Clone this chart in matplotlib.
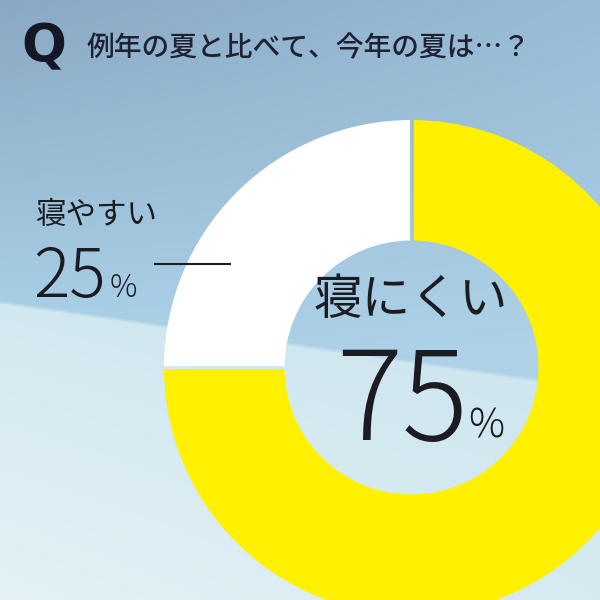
import numpy as np
import matplotlib
matplotlib.use('Agg')
import matplotlib.pyplot as plt
from matplotlib.patches import Rectangle

plt.rcParams['font.family'] = ['Noto Sans CJK JP', 'DejaVu Sans']

# data
QUESTION = '例年の夏と比べて、今年の夏は…？'
labels = ['寝にくい', '寝やすい']
shares = [75, 25]
colors = ['#fff100', '#ffffff']

W = H = 600
CX, CY = 411.5, 367.5      # donut centre in image pixels (y down)
R_OUT, R_IN = 247.5, 127.0
GAP = 3.5
INK = '#1b1c22'


def py(y):
    """image pixel row -> data y (y up)"""
    return H - y


def hex2rgb(h):
    return np.array([int(h[i:i + 2], 16) for i in (1, 3, 5)]) / 255.0


#
# background: bluish sky on top, pale band below a slanted edge
#
yy, xx = np.mgrid[0:H, 0:W].astype(float)
edge = 302.0 + 0.145 * xx
fx = (xx / W)[..., None]
top = hex2rgb('#8aa8c3') * (1 - fx) + hex2rgb('#98bcd6') * fx
near = hex2rgb('#a7cee5') * (1 - fx) + hex2rgb('#b1d4e9') * fx
t = np.clip(yy / edge, 0, 1)[..., None]
upper = top * (1 - t) + near * t
s = np.clip((yy - edge) / (H - edge), 0, 1)[..., None]
low_a = hex2rgb('#d2e8f0') * (1 - fx) + hex2rgb('#cfe6ef') * fx
low_b = hex2rgb('#e4f2f6') * (1 - fx) + hex2rgb('#d6eaf1') * fx
lower = low_a * (1 - s) + low_b * s
m = np.clip((yy - edge) / 4.0 + 0.5, 0, 1)[..., None]
bg = upper * (1 - m) + lower * m

fig = plt.figure(figsize=(6, 6), dpi=100)
ax = fig.add_axes([0, 0, 1, 1])
ax.imshow(bg, extent=(0, W, 0, H), origin='upper', zorder=0)

#
# donut
#
ax.pie(shares, colors=colors, startangle=90, counterclock=False,
       center=(CX, py(CY)), radius=R_OUT, frame=True,
       wedgeprops=dict(width=R_OUT - R_IN, linewidth=0))

# thin gaps between the two slices show the background through
for x0, y0, w, h in [(CX - GAP / 2, py(CY), GAP, R_OUT + 5),
                     (CX - R_OUT - 5, py(CY) - GAP / 2, R_OUT + 5, GAP)]:
    rect = Rectangle((x0, y0), w, h, transform=ax.transData)
    im = ax.imshow(bg, extent=(0, W, 0, H), origin='upper', zorder=5)
    im.set_clip_path(rect)

ax.set_xlim(0, W)
ax.set_ylim(0, H)
ax.set_aspect('equal')
ax.axis('off')

#
# header
#
ax.text(44, py(47), 'Q', fontsize=38, fontweight='heavy', color='#141726',
        ha='center', va='center', family=['DejaVu Sans'], zorder=10)
ax.text(87, py(48), QUESTION, fontsize=20, fontweight='medium',
        color='#1e2233', ha='left', va='center', zorder=10)

#
# labels
#
ax.text(35, py(215), labels[1], fontsize=22, color=INK, ha='left',
        va='center', zorder=10)
ax.text(33, py(297), '{}'.format(shares[1]), fontsize=49, color=INK,
        fontweight='light', ha='left', va='baseline', zorder=10)
ax.text(110, py(297), '%', fontsize=22, color=INK, fontweight='light',
        ha='left', va='baseline', zorder=10)
ax.plot([155, 230], [py(264), py(264)], color=INK, lw=1.5, zorder=10)

ax.text(411, py(300), labels[0], fontsize=35, color=INK, ha='center',
        va='center', zorder=10)
ax.text(336, py(440), '{}'.format(shares[0]), fontsize=89, color=INK,
        fontweight='light', ha='left', va='baseline', zorder=10)
ax.text(468, py(438), '%', fontsize=29, color=INK, fontweight='light',
        ha='left', va='baseline', zorder=10)

fig.savefig('out.png', dpi=100)
